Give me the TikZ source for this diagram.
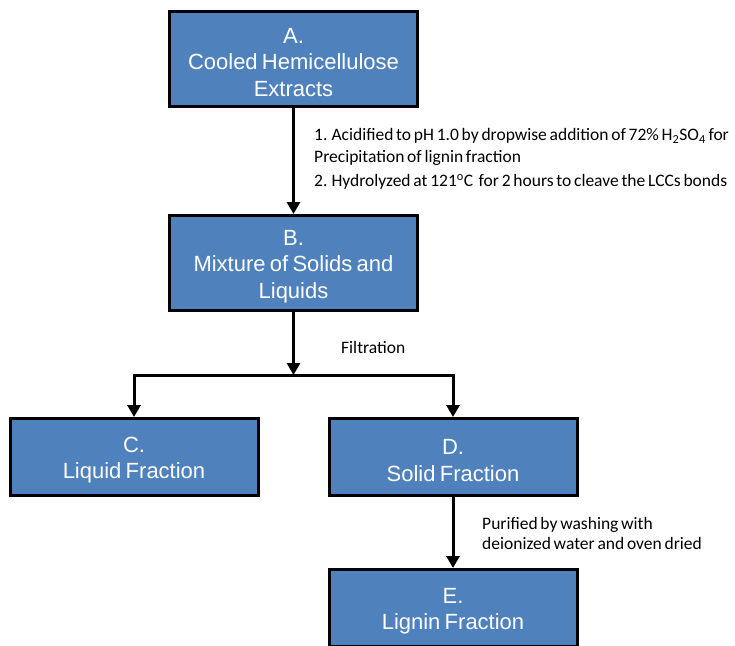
\documentclass[tikz,border=0pt]{standalone}
\usepackage{fontspec}
\setmainfont[WordSpace=0.7]{Liberation Sans}
\newfontfamily\calib[WordSpace=0.7]{Carlito}
\usetikzlibrary{arrows.meta}
\definecolor{boxblue}{HTML}{4F81BD}
\newcommand{\topstrut}{\rule{0pt}{22pt}}
\tikzset{
  stepbox/.style={draw=black, line width=3pt, fill=boxblue, text=white,
    minimum width=248pt, align=center, inner sep=0pt,
    font=\fontsize{22}{26.5}\selectfont},
  tall/.style={minimum height=95pt},
  short/.style={minimum height=77pt},
  arr/.style={line width=3pt, -{Triangle[width=13pt,length=12pt]}},
  note/.style={inner sep=0pt, align=left, anchor=west,
    font=\fontsize{17.5}{21.5}\calib}
}
\begin{document}
\begin{tikzpicture}[x=1pt,y=-1pt]
\useasboundingbox (0,0) rectangle (735,645);
\node[stepbox,tall] (A) at (293.5,59) {\topstrut A.\\Cooled Hemicellulose\\Extracts};
\node[stepbox,tall] (B) at (293.5,263) {\topstrut B.\\Mixture of Solids and\\Liquids};
\node[stepbox,short] (C) at (134,457) {\topstrut C.\\Liquid Fraction};
\node[stepbox,short] (D) at (453,457) {\topstrut D.\\Solid Fraction};
\node[stepbox,short] (E) at (453,608) {\topstrut E.\\Lignin Fraction};
\coordinate (J) at (293.5,375);
\draw[arr] (A) -- (B);
\draw[arr] (B) -- (J);
\draw[arr] (J) -| (C);
\draw[arr] (J) -| (D);
\draw[arr] (D) -- (E);
\node[note] (n1) at (314,147) {1. Acidified to pH 1.0 by dropwise addition of 72\% H\textsubscript{2}SO\textsubscript{4} for\\Precipitation of lignin fraction};
\node[note] (n2) at (314,182) {2. Hydrolyzed at 121\textsuperscript{o}C\ \ for 2 hours to cleave the LCCs bonds};
\node[note] (n3) at (341,347) {Filtration};
\node[note, font=\fontsize{17.5}{20}\calib] (n4) at (482,533) {Purified by washing with\\deionized water and oven dried};
\end{tikzpicture}
\end{document}
